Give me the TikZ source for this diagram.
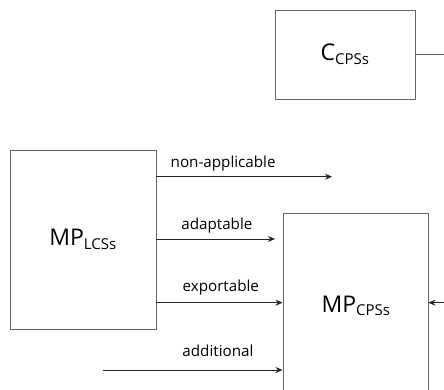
\documentclass[tikz,border=0pt]{standalone}
\usepackage{fontspec}
\setmainfont{Open Sans}
\usetikzlibrary{arrows.meta}
\begin{document}
\begin{tikzpicture}[x=1pt,y=1pt,
  box/.style={draw=black!60,line width=0.8pt,inner sep=0pt,font=\fontsize{23}{26}\selectfont},
  arr/.style={draw=black!85,line width=0.7pt,-{Stealth[length=7pt,width=6pt]}},
  lbl/.style={font=\fontsize{15.2}{17}\selectfont,inner sep=0pt}]
\useasboundingbox (0,0) rectangle (444,390);
\clip (0,0) rectangle (444,390);
\node[box,minimum width=140pt,minimum height=89pt] (C) at (345,335.5) {C\textsubscript{\fontsize{15}{17}\selectfont CPSs}};
\node[box,minimum width=146pt,minimum height=179pt] (L) at (83,150.5) {MP\textsubscript{\fontsize{15}{17}\selectfont LCSs}};
\node[box,minimum width=145pt,minimum height=192pt,text depth=0pt] (P) at (355.5,81) {};
\node[font=\fontsize{23}{26}\selectfont,inner sep=0pt] (Pt) at (356,84) {MP\textsubscript{\fontsize{15}{17}\selectfont CPSs}};
\coordinate (ce) at (444,335.5);
\draw[draw=black!60,line width=0.8pt] (C.east) -- (ce);
\coordinate (na) at (332,213.3);
\coordinate (ad) at (275,151);
\coordinate (addin) at (103,20);
\coordinate (rin) at (444,87.3);
\draw[arr] (L.east |- na) -- (na) node[lbl,pos=0.38,above=5pt] {non-applicable};
\draw[arr] (L.east |- ad) -- (ad) node[lbl,pos=0.51,above=5pt] {adaptable};
\draw[arr] (L.east |- rin) -- (P.west |- rin) node[lbl,pos=0.51,above=7pt] {exportable};
\draw[arr] (addin) -- (P.west |- addin) node[lbl,pos=0.64,above=13pt] {additional};
\draw[arr] (rin) -- (P.east |- rin);
\end{tikzpicture}
\end{document}
